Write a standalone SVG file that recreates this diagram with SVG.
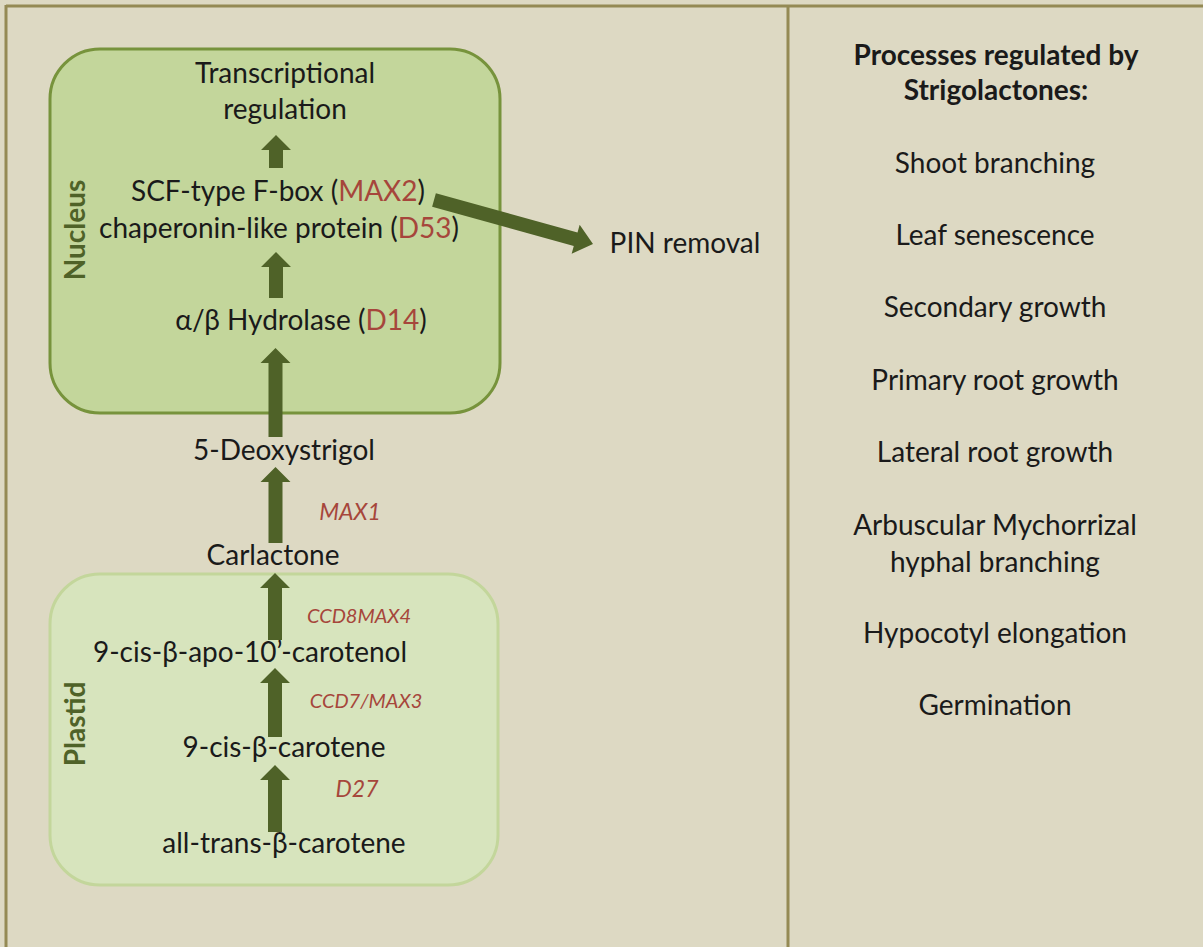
<svg xmlns="http://www.w3.org/2000/svg" width="1203" height="947" viewBox="0 0 1203 947">
<style>
.t{font-family:"Lato","Open Sans","Liberation Sans",sans-serif;font-size:28px;fill:#1a1a1a;text-anchor:middle}
.b{font-weight:bold}
.r{fill:#a6463b}
.i{font-family:"Lato","Open Sans","Liberation Sans",sans-serif;font-style:italic;font-size:20px;fill:#a6463b;text-anchor:middle}
.i2{font-size:23px}
.lab{font-family:"Lato","Open Sans","Liberation Sans",sans-serif;font-weight:bold;font-size:28px;fill:#4f6228;text-anchor:middle}
.arr{fill:#4f6228}
</style>
<rect x="0" y="0" width="1203" height="947" fill="#ddd9c3"/>
<g id="frame" stroke="#948a54" stroke-width="3" fill="none">
<line x1="6" y1="6" x2="1203" y2="6"/>
<line x1="6" y1="5" x2="6" y2="947"/>
<line x1="788" y1="5" x2="788" y2="947"/>
</g>
<g id="nucleus">
<rect x="50" y="49" width="450" height="364" rx="50" ry="50" fill="#c3d69b" stroke="#77933c" stroke-width="3"/>
<text class="lab" transform="translate(85,230) rotate(-90)">Nucleus</text>
</g>
<g id="plastid">
<rect x="50" y="574" width="448" height="311" rx="50" ry="50" fill="#d7e4bd" stroke="#c3d69b" stroke-width="3"/>
<text class="lab" transform="translate(85,724) rotate(-90)">Plastid</text>
</g>
<g id="connectors">
<polygon class="arr" points="276,135 291,150 283,150 283,168 269,168 269,150 261,150"/>
<polygon class="arr" points="276,252 291,267 283,267 283,298 269,298 269,267 261,267"/>
<polygon class="arr" points="275.5,348 290.5,363 282.5,363 282.5,437 268.5,437 268.5,363 260.5,363"/>
<polygon class="arr" points="275.5,467 290.5,482 282.5,482 282.5,543 268.5,543 268.5,482 260.5,482"/>
<polygon class="arr" points="275,573 290,588 282,588 282,640 268,640 268,588 260,588"/>
<polygon class="arr" points="275,668 290,683 282,683 282,737 268,737 268,683 260,683"/>
<polygon class="arr" points="275,765 290,780 282,780 282,832 268,832 268,780 260,780"/>
<polygon class="arr" transform="translate(434,200) rotate(15.5)" points="0,-7 147,-7 147,-15 165,0 147,15 147,7 0,7"/>
</g>
<g id="n-transcription"><text class="t" x="285" y="83">Transcriptional</text><text class="t" x="285" y="119">regulation</text></g>
<g id="n-max2"><text class="t" x="278" y="201">SCF-type F-box (<tspan class="r">MAX2</tspan>)</text><text class="t" x="279" y="238">chaperonin-like protein (<tspan class="r">D53</tspan>)</text></g>
<g id="n-d14"><text class="t" x="301" y="330">α/β Hydrolase (<tspan class="r">D14</tspan>)</text></g>
<g id="n-pin"><text class="t" x="685" y="253">PIN removal</text></g>
<g id="n-deoxy"><text class="t" x="284" y="460">5-Deoxystrigol</text></g>
<g id="l-max1"><text class="i i2" x="350" y="520">MAX1</text></g>
<g id="n-carlactone"><text class="t" x="273" y="565">Carlactone</text></g>
<g id="l-ccd8"><text class="i" x="359" y="623">CCD8MAX4</text></g>
<g id="n-carotenol"><text class="t" x="250" y="662">9-cis-β-apo-10’-carotenol</text></g>
<g id="l-ccd7"><text class="i" x="366" y="708">CCD7/MAX3</text></g>
<g id="n-9cis"><text class="t" x="284" y="757">9-cis-β-carotene</text></g>
<g id="l-d27"><text class="i i2" x="357" y="797">D27</text></g>
<g id="n-alltrans"><text class="t" x="284" y="853">all-trans-β-carotene</text></g>
<g id="processes">
<text class="t b" x="996" y="65">Processes regulated by</text>
<text class="t b" x="996" y="100">Strigolactones:</text>
<text class="t" x="995" y="173">Shoot branching</text>
<text class="t" x="995" y="245">Leaf senescence</text>
<text class="t" x="995" y="317">Secondary growth</text>
<text class="t" x="995" y="390">Primary root growth</text>
<text class="t" x="995" y="462">Lateral root growth</text>
<text class="t" x="995" y="535">Arbuscular Mychorrizal</text>
<text class="t" x="995" y="572">hyphal branching</text>
<text class="t" x="995" y="643">Hypocotyl elongation</text>
<text class="t" x="995" y="715">Germination</text>
</g>
</svg>
